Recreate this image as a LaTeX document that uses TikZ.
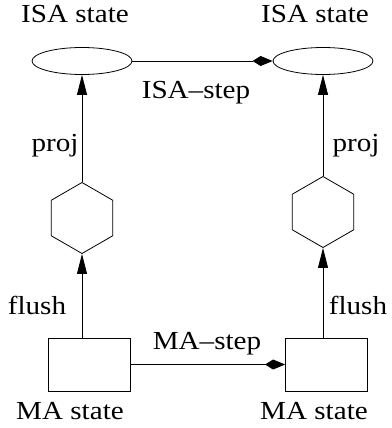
\documentclass[tikz,border=0pt]{standalone}
\usepackage{fontspec}
\setmainfont{Liberation Serif}[FakeStretch=1.12]
\usetikzlibrary{positioning,shapes.geometric,arrows.meta}

\begin{document}
\begin{tikzpicture}[x=1pt,y=-1pt,line width=0.8pt,
            font=\fontsize{26}{30}\selectfont,
            isanode/.style={draw,ellipse,minimum width=100pt,minimum height=27pt,inner sep=0pt},
            hexnode/.style={draw,regular polygon,regular polygon sides=6,shape border rotate=30,
                minimum size=71pt,inner sep=0pt},
            manode/.style={draw,rectangle,minimum width=82pt,minimum height=53pt,inner sep=0pt},
            lbl/.style={anchor=base,inner sep=0pt},
            steparrow/.style={-{Kite[length=20pt,width=10pt,inset=8pt]}},
            maparrow/.style={-{Triangle[length=20pt,width=10pt]}}]
            \useasboundingbox (0,0) rectangle (391,428);
            % States
            \node[isanode] (isaL) at (82,61) {};
            \node[isanode] (isaR) at (323,61) {};
            \node[hexnode] (hexL) at (82,218) {};
            \node[hexnode] (hexR) at (323,212) {};
            \node[manode] (maL) at (89,364.5) {};
            \node[manode] (maR) at (326.5,364.5) {};
            % Steps
            \draw[steparrow] (isaL.east) -- (isaR.west);
            \draw[steparrow] (maL.east) -- (maR.west);
            % Flush and projection
            \draw[maparrow] (maL.north -| hexL.south) -- (hexL.south);
            \draw[maparrow] (hexL.north) -- (isaL.south);
            \draw[maparrow] (maR.north -| hexR.south) -- (hexR.south);
            \draw[maparrow] (hexR.north) -- (isaR.south);
            % Labels
            \node[lbl] (isaLtxt) at (75,23) {ISA state};
            \node[lbl] (isaRtxt) at (315,23) {ISA state};
            \node[lbl] (isastep) at (196,98) {ISA--step};
            \node[lbl] (projL) at (55,151) {proj};
            \node[lbl] (projR) at (356,151) {proj};
            \node[lbl] (flushL) at (37,314) {flush};
            \node[lbl] (flushR) at (358,314) {flush};
            \node[lbl] (mastep) at (207,349) {MA--step};
            \node[lbl] (maLtxt) at (70,419) {MA state};
            \node[lbl] (maRtxt) at (314,419) {MA state};
\end{tikzpicture}
\end{document}
